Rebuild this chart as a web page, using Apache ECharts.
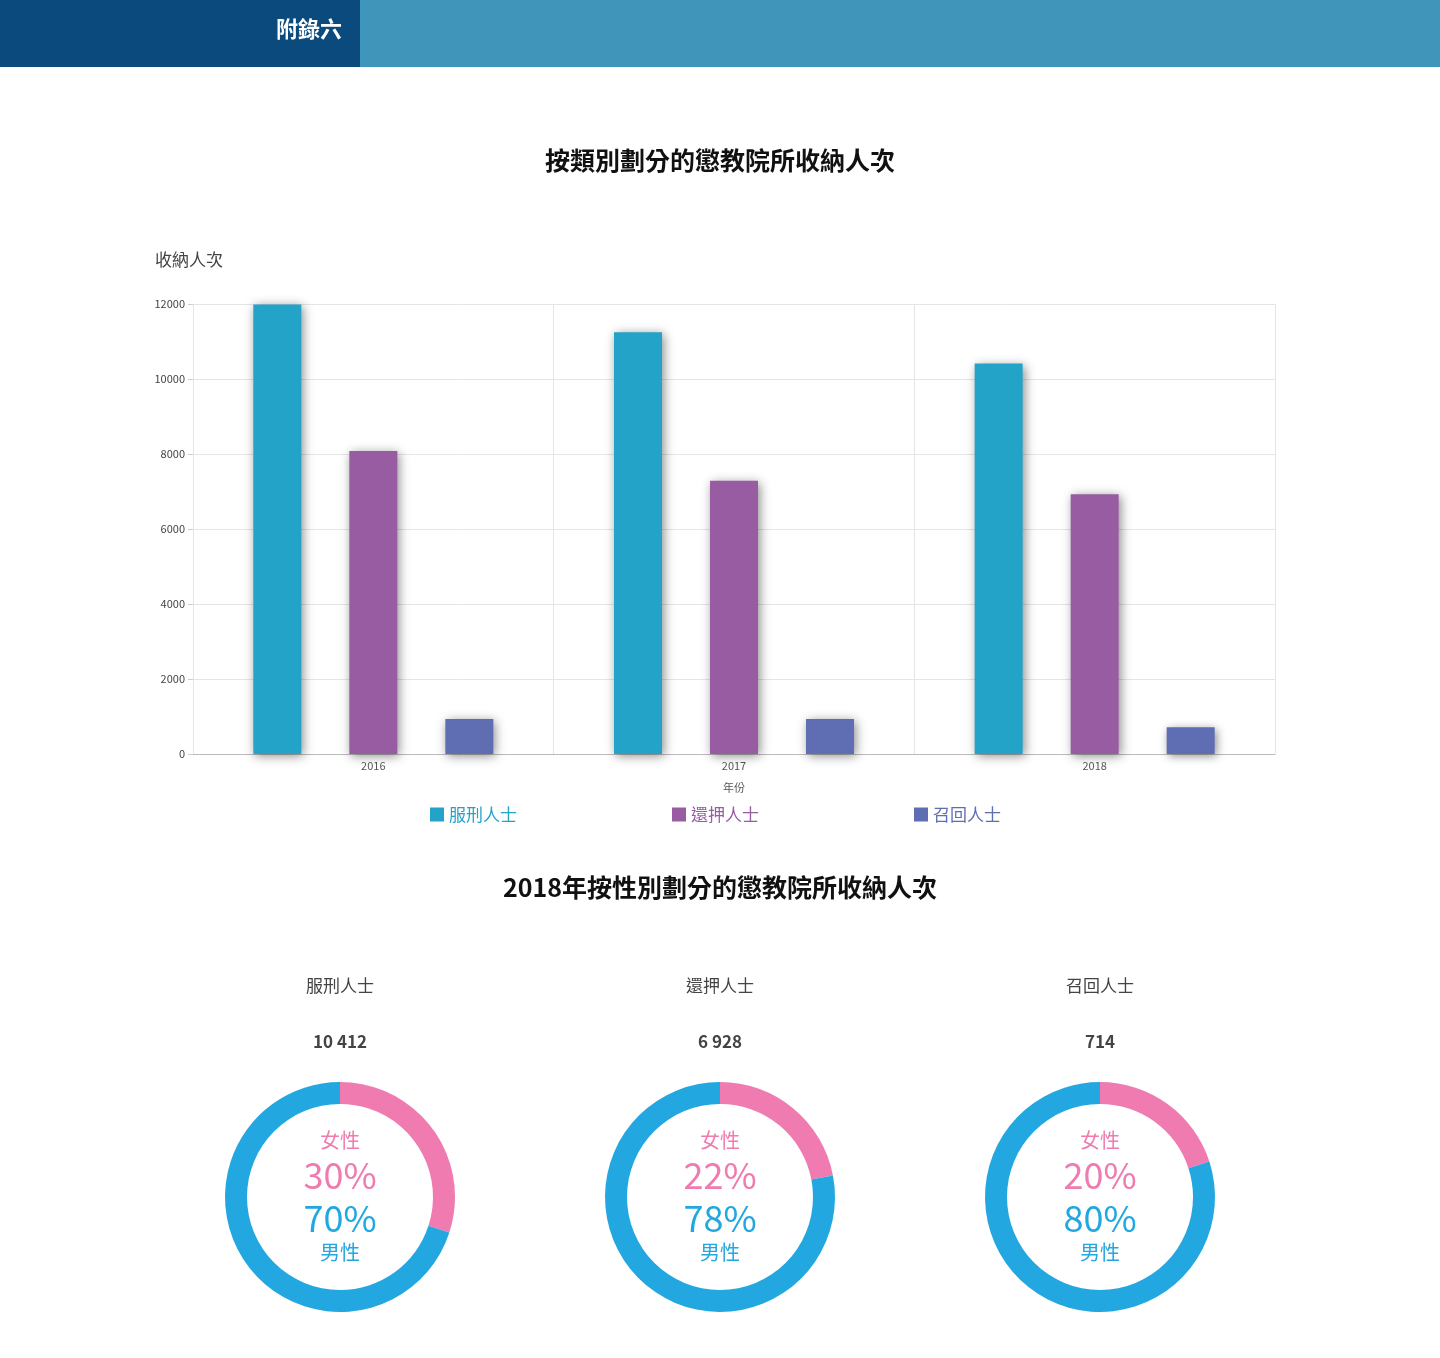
<!DOCTYPE html>
<html><head><meta charset="utf-8">
<script src="https://cdn.jsdelivr.net/npm/echarts@6/dist/echarts.min.js"></script>
<style>html,body{margin:0;padding:0;background:#fff}#c{width:1440px;height:1358px}</style>
</head><body><div id="c"></div>
<script>
const years = ['2016','2017','2018'];
const seriesNames = ['服刑人士','還押人士','召回人士'];
const sentenced = [11990, 11250, 10412];
const remand = [8080, 7290, 6928];
const recall = [935, 935, 714];
const yTicks = [0,2000,4000,6000,8000,10000,12000];
const donutTotals = ['10 412','6 928','714'];
const femalePct = [30, 22, 20];
const malePct = [70, 78, 80];

const colors = ['#23a3c8','#975ca2','#5f6db3'];
const font = '"Noto Sans CJK TC","Noto Sans",sans-serif';
const chart = echarts.init(document.getElementById('c'));
const vals = [sentenced, remand, recall];
const centersX = [340,720,1100];
const series = vals.map((v,i)=>({
  type:'bar', name:seriesNames[i], data:v, barWidth:48, barGap:'100%',
  itemStyle:{color:colors[i], shadowColor:'rgba(0,0,0,0.45)', shadowBlur:10, shadowOffsetX:2, shadowOffsetY:2}
}));
const graphic = [
  {type:'rect', shape:{x:0,y:0,width:360,height:67}, style:{fill:'#0b4a7d'}},
  {type:'rect', shape:{x:360,y:0,width:1080,height:67}, style:{fill:'#4096ba'}},
  {type:'text', x:309, y:29, style:{text:'附錄六', fill:'#fff', font:'bold 22px '+font, align:'center', verticalAlign:'middle'}}
];
centersX.forEach((cx,i)=>{
  series.push({type:'pie', radius:[93,115], center:[cx,1197], startAngle:90, silent:true,
    label:{show:false}, labelLine:{show:false},
    data:[{value:femalePct[i], name:'女性', itemStyle:{color:'#ef7bb0'}},{value:malePct[i], name:'男性', itemStyle:{color:'#22a7e0'}}]});
  graphic.push(
    {type:'text', x:cx, y:986, style:{text:seriesNames[i], fill:'#444', font:'17px '+font, align:'center', verticalAlign:'middle'}},
    {type:'text', x:cx, y:1042, style:{text:donutTotals[i], fill:'#444', font:'bold 17px '+font, align:'center', verticalAlign:'middle'}},
    {type:'text', x:cx, y:1140, style:{text:'女性', fill:'#ef7bb0', font:'20px '+font, align:'center', verticalAlign:'middle'}},
    {type:'text', x:cx, y:1175, style:{text:femalePct[i]+'%', fill:'#ef7bb0', font:'36px '+font, align:'center', verticalAlign:'middle'}},
    {type:'text', x:cx, y:1218, style:{text:malePct[i]+'%', fill:'#22a7e0', font:'36px '+font, align:'center', verticalAlign:'middle'}},
    {type:'text', x:cx, y:1252, style:{text:'男性', fill:'#22a7e0', font:'20px '+font, align:'center', verticalAlign:'middle'}}
  );
});
chart.setOption({
  animation:false,
  textStyle:{fontFamily:font},
  title:[
    {text:'按類別劃分的懲教院所收納人次', left:'center', top:143, textStyle:{fontSize:25, fontWeight:'bold', color:'#111', fontFamily:font}},
    {text:'2018年按性別劃分的懲教院所收納人次', left:'center', top:870, textStyle:{fontSize:25, fontWeight:'bold', color:'#111', fontFamily:font}}
  ],
  legend:{data:seriesNames, top:801, left:425, itemGap:155, itemWidth:14, itemHeight:14, icon:'rect',
    textStyle:{fontSize:17, fontFamily:font, rich:{}}, formatter:n=>n,
    selectedMode:false},
  grid:{left:193, right:165, top:304, bottom:604},
  xAxis:{type:'category', data:years, name:'年份', nameLocation:'middle', nameGap:28,
    nameTextStyle:{fontSize:11, color:'#555'},
    axisTick:{show:false}, axisLine:{lineStyle:{color:'#bbb'}},
    axisLabel:{fontSize:11, color:'#555', margin:6},
    splitLine:{show:true, lineStyle:{color:'#e5e5e5'}}},
  yAxis:{type:'value', min:0, max:12000, interval:2000, name:'收納人次', nameLocation:'end', nameGap:36,
    nameTextStyle:{fontSize:17, color:'#444', align:'right', padding:[0,-30,0,0]},
    axisLine:{show:false}, axisTick:{show:true, length:5, lineStyle:{color:'#ccc'}},
    axisLabel:{fontSize:11, color:'#444', formatter:v=>yTicks.includes(v)?String(v):''},
    splitLine:{lineStyle:{color:'#e5e5e5'}}},
  series, graphic
});
// legend text colors per item
chart.setOption({legend:{data:seriesNames.map((n,i)=>({name:n, textStyle:{color:colors[i]}}))}});
</script></body></html>
